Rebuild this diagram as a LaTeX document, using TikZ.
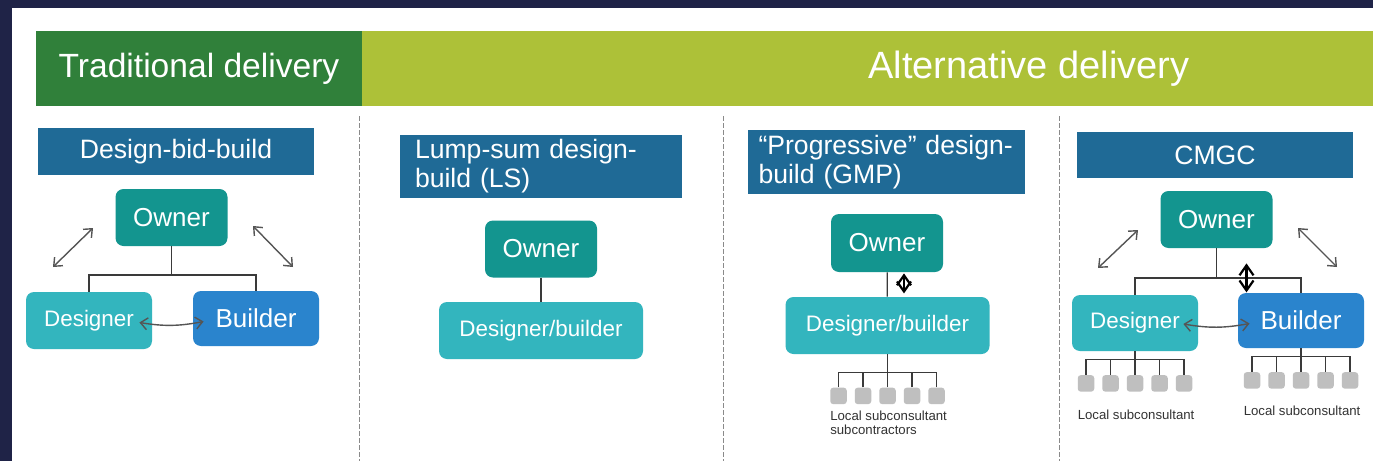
\documentclass[tikz,border=0pt]{standalone}
\usepackage{fontspec}
\setmainfont{Liberation Sans}
\usepackage{xcolor}
\usepackage{tikz}
\usetikzlibrary{calc,arrows.meta,positioning}
\definecolor{navy}{HTML}{1F2347}
\definecolor{tradc}{HTML}{30803A}
\definecolor{altc}{HTML}{ADC138}
\definecolor{hdrc}{HTML}{1F6A96}
\definecolor{ownc}{HTML}{13958F}
\definecolor{desc}{HTML}{33B5BE}
\definecolor{bldc}{HTML}{2A84CD}
\definecolor{subc}{HTML}{BFBFBF}
\definecolor{linec}{HTML}{3A3A3A}
\definecolor{relc}{HTML}{555555}
\definecolor{dashc}{HTML}{8A8A8A}
\definecolor{labc}{HTML}{333333}
\tikzset{
  bar/.style={text=white, inner sep=0pt, minimum height=37.5pt},
  hdr/.style={fill=hdrc, text=white, inner sep=0pt, font=\fontsize{13.3}{14.5}\selectfont},
  box/.style={rounded corners=4pt, text=white, inner sep=0pt, minimum height=28.5pt},
  own/.style={box, fill=ownc, minimum width=56pt, font=\fontsize{13}{15}\selectfont},
  des/.style={box, fill=desc, minimum width=63pt, font=\fontsize{11.2}{13}\selectfont},
  bld/.style={box, fill=bldc, minimum width=63pt, minimum height=27.5pt, font=\fontsize{13}{15}\selectfont},
  db/.style={box, fill=desc, minimum width=102pt, font=\fontsize{11.2}{13}\selectfont},
  sub/.style={fill=subc, rounded corners=1.5pt, minimum size=8.25pt, inner sep=0pt},
  tree/.style={draw=linec, line width=0.6pt},
  rel/.style={draw=relc, line width=0.7pt, >={Straight Barb[length=3.5pt,width=6pt]}, <->},
  relb/.style={draw=black, line width=1.1pt, >={Straight Barb[length=5pt,width=7pt]}, <->},
  help/.style={draw=dashc, line width=0.5pt, dash pattern=on 2.5pt off 1pt},
  lab/.style={text=labc, inner sep=0pt, align=left, font=\fontsize{6.6}{6.8}\selectfont},
}
\begin{document}
\begin{tikzpicture}[x=0.5pt, y=-0.5pt]
\useasboundingbox (0,0) rectangle (1373,461);
\clip (0,0) rectangle (1373,461);
\fill[navy] (0,0) rectangle (1373,461);
\fill[white] (12,8) rectangle (1373,461);
\node[bar, fill=tradc, minimum width=163pt, font=\fontsize{16.8}{18}\selectfont] (trad) at (199,68.5) {Traditional delivery};
\node[bar, fill=altc, minimum width=667pt, font=\fontsize{19}{20}\selectfont] (alt) at (1029,68.5) {Alternative delivery};
\foreach \x in {359,723,1059}
  \draw[help] (\x,116) -- (\x,461);
% design-bid-build
\node[hdr, minimum width=138pt, minimum height=23.5pt] (h1) at (176,151.5) {Design-bid-build};
\node[own] (o1) at (171.5,217.5) {Owner};
\node[des] (d1) at (89,320.5) {Designer};
\node[bld] (b1) at (256,318.5) {Builder};
\coordinate (j1) at (171.5,275);
\draw[tree] (o1) -- (j1);
\draw[tree] (d1.north) |- (j1) -| (b1.north);
\coordinate (u1) at (53,267);
\coordinate (v1) at (93,228);
\coordinate (u2) at (253,226);
\coordinate (v2) at (293,267);
\draw[rel] (u1) -- (v1);
\draw[rel] (u2) -- (v2);
\draw[rel] ([shift={(-6.5pt,-1pt)}]d1.east) to[bend right=10] ([shift={(5.5pt,-1.5pt)}]b1.west);
% lump-sum
\node[hdr, minimum height=31.5pt, text width=126pt, inner xsep=7.5pt, align=left] (h2) at (541,166.5) {Lump-sum design-\\build (LS)};
\node[own] (o2) at (541,249) {Owner};
\node[db] (db2) at (541,330.5) {Designer/builder};
\draw[tree] (o2) -- (db2);
% progressive
\node[hdr, minimum height=32pt, text width=128pt, inner xsep=5.25pt, align=left] (h3) at (886.5,162) {“Progressive” design-\\build (GMP)};
\node[own, minimum height=29pt] (o3) at (887,243) {Owner};
\node[db] (db3) at (887.5,325.5) {Designer/builder};
\draw[tree] (o3) -- (db3);
\draw[relb] ($(o3.south)+(17,1)$) -- ($(o3.south)+(17,21)$);
\coordinate (j3) at ($(db3.south)+(0,18)$);
\draw[tree] (db3) -- (j3);
\foreach \i in {1,...,5}{
  \node[sub] (s3\i) at ($(db3.south)+({(\i-3)*24.5},41.5)$) {};
  \draw[tree] (s3\i.north) |- (j3);
}
\node[lab, anchor=north west] (l3) at ($(s31.south west)+(0,6)$) {Local subconsultant\\subcontractors};
% cmgc
\node[hdr, minimum width=138pt, minimum height=23pt] (h4) at (1215,155) {CMGC};
\node[own] (o4) at (1216.5,219.5) {Owner};
\node[des, minimum height=28pt] (d4) at (1135,323) {Designer};
\node[bld] (b4) at (1301,320.5) {Builder};
\coordinate (j4) at (1216.5,278);
\draw[tree] (o4) -- (j4);
\draw[tree] (d4.north) |- (j4) -| (b4.north);
\draw[relb] ($(o4.south)+(30,15)$) -- ($(o4.south)+(30,44)$);
\coordinate (u3) at (1098,268);
\coordinate (v3) at (1138,230);
\coordinate (u4) at (1298,228);
\coordinate (v4) at (1337,267);
\draw[rel] (u3) -- (v3);
\draw[rel] (u4) -- (v4);
\draw[rel] ([shift={(-7.5pt,-0.5pt)}]d4.east) to[bend right=10] ([shift={(6pt,-1.5pt)}]b4.west);
\coordinate (jd) at ($(d4.south)+(0,8)$);
\coordinate (jb) at ($(b4.south)+(0,8)$);
\draw[tree] (d4) -- (jd);
\draw[tree] (b4) -- (jb);
\foreach \i in {1,...,5}{
  \node[sub] (sd\i) at ($(d4.south)+({(\i-3)*24.5},32)$) {};
  \node[sub] (sb\i) at ($(b4.south)+({(\i-3)*24.5},32)$) {};
  \draw[tree] (sd\i.north) |- (jd);
  \draw[tree] (sb\i.north) |- (jb);
}
\node[lab, anchor=north west] (ld) at ($(sd1.south west)+(0,17)$) {Local subconsultant};
\node[lab, anchor=north west] (lb) at ($(sb1.south west)+(0,16)$) {Local subconsultant};
\end{tikzpicture}
\end{document}
